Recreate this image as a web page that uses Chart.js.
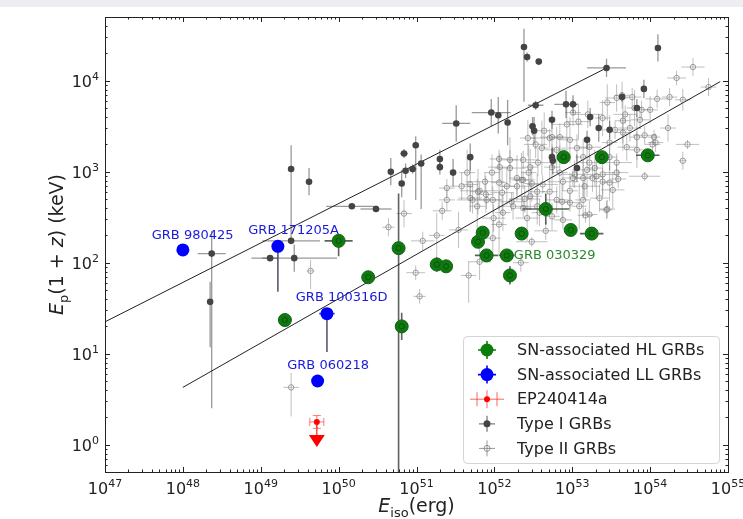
<!DOCTYPE html>
<html>
<head>
<meta charset="utf-8">
<script src="https://cdn.jsdelivr.net/npm/chart.js@4.4.1/dist/chart.umd.min.js"></script>
<style>
html,body{margin:0;background:#fff}
#wrap{width:743px;height:519px}
</style>
</head>
<body>
<div id="wrap"><canvas id="c" width="743" height="519"></canvas></div>
<script>
// all values are log10 : [log Eiso, log Ep(1+z), dx, dy(up), dy(down, optional)]
const xRange = [47, 55];
const yRange = [-0.3, 4.7];
const xTicks = [47,48,49,50,51,52,53,54,55];
const yTicks = [0,1,2,3,4];

const typeII = [
[50.84,2.54,0.10,0.15],[50.64,2.39,0.08,0.10],[51.39,2.69,0.10,0.12],[51.33,2.57,0.12,0.10],
[51.26,2.30,0.10,0.25],[51.08,2.24,0.15,0.10],[50.99,1.89,0.12,0.08],[49.64,1.91,0.05,0.12,0.2],
[49.39,0.63,0.10,0.16,0.32],[51.04,1.63,0.08,0.08],[51.67,1.86,0.10,0.15,0.30],[51.81,2.01,0.15,0.20],
[52.34,2.00,0.10,0.10],[51.54,2.36,0.12,0.20],[51.65,2.99,0.10,0.25],[51.72,2.69,0.20,0.15],
[51.78,2.62,0.10,0.30],[51.81,2.79,0.25,0.10],[51.89,2.75,0.10,0.20],[51.99,2.49,0.15,0.15],
[52.06,2.88,0.10,0.30],[52.06,3.14,0.12,0.10],[52.20,3.04,0.20,0.20],[52.29,2.93,0.10,0.25],
[52.37,2.91,0.15,0.10],[52.44,2.99,0.10,0.30],[52.39,2.70,0.20,0.15],[52.48,2.87,0.10,0.20],
[52.53,3.30,0.15,0.15],[52.61,3.26,0.10,0.30],[52.71,3.37,0.25,0.10],[52.64,3.45,0.10,0.20],
[52.80,3.24,0.15,0.25],[52.84,2.99,0.10,0.30],[52.88,2.89,0.20,0.10],[52.97,2.79,0.10,0.20],
[53.03,2.97,0.15,0.15],[53.09,2.62,0.10,0.25],[53.16,2.84,0.20,0.15],[53.19,3.02,0.10,0.30],
[53.22,3.27,0.15,0.10],[53.29,3.04,0.10,0.20],[53.35,2.71,0.12,0.15],[53.39,2.97,0.20,0.25],
[53.45,2.59,0.10,0.10],[53.52,2.80,0.15,0.20],[53.48,3.16,0.10,0.15],[53.57,3.10,0.20,0.10],
[53.65,3.43,0.10,0.20],[53.74,3.48,0.15,0.15],[53.83,3.38,0.10,0.25],[53.89,3.68,0.12,0.10],
[54.00,3.68,0.10,0.15],[54.09,3.80,0.15,0.10],[54.23,3.48,0.10,0.15],[54.25,3.82,0.10,0.10],
[54.34,4.03,0.12,0.08],[54.42,3.79,0.10,0.12],[54.55,4.15,0.15,0.10],[54.48,3.30,0.15,0.05],
[54.42,3.12,0.05,0.10],[54.75,3.93,0.10,0.10],[53.57,3.81,0.15,0.15],[53.45,3.76,0.10,0.20],
[53.77,3.82,0.12,0.10],[53.65,3.56,0.10,0.25],[53.20,3.63,0.20,0.15],[53.39,3.59,0.10,0.20],
[53.55,3.46,0.15,0.10],[53.48,3.32,0.10,0.30],[53.70,3.27,0.12,0.15],[53.83,3.24,0.10,0.20],
[53.93,3.40,0.15,0.10],[54.05,3.38,0.08,0.08],[54.03,3.30,0.10,0.10],[53.08,3.55,0.15,0.20],
[53.01,3.65,0.10,0.15],[52.93,3.52,0.20,0.25],[52.84,3.38,0.10,0.15],[52.74,3.38,0.15,0.20],
[52.97,3.35,0.10,0.25],[53.06,3.26,0.20,0.15],[53.14,3.16,0.10,0.20],[53.22,3.10,0.15,0.10],
[53.31,2.95,0.10,0.25],[53.39,2.89,0.12,0.15],[53.48,2.88,0.10,0.20],[53.57,2.99,0.15,0.10],
[53.14,2.69,0.10,0.20],[52.80,2.69,0.15,0.15],[52.71,2.78,0.10,0.25],[52.62,2.86,0.20,0.10],
[52.55,2.78,0.10,0.20],[52.46,2.73,0.15,0.15],[52.35,2.91,0.10,0.30],[52.29,2.84,0.20,0.10],
[52.16,2.84,0.10,0.20],[52.10,2.77,0.15,0.25],[51.98,2.69,0.10,0.15],[51.90,2.69,0.20,0.10],
[51.79,2.78,0.10,0.25],[51.69,2.71,0.15,0.15],[52.11,2.55,0.10,0.20],[52.24,2.62,0.20,0.15],
[52.37,2.60,0.10,0.10],[52.42,2.49,0.15,0.25],[52.74,2.51,0.10,0.15],[52.88,2.47,0.12,0.10],
[52.87,2.67,0.10,0.20],[52.97,2.66,0.15,0.10],[53.22,2.53,0.10,0.15],[52.55,2.62,0.20,0.20],
[52.74,3.05,0.10,0.25],[52.56,3.10,0.15,0.15],[52.46,3.05,0.10,0.20],[52.37,3.13,0.20,0.10],
[52.20,3.13,0.10,0.25],[52.07,3.05,0.15,0.15],[51.97,2.99,0.10,0.20],[51.88,2.89,0.25,0.10],
[51.69,2.86,0.10,0.30],[51.58,2.84,0.15,0.15],[51.39,2.82,0.10,0.10],[54.07,3.32,0.10,0.10],
[53.64,3.84,0.10,0.15],[53.68,3.63,0.15,0.10],[53.80,3.70,0.10,0.20],[53.87,3.57,0.12,0.10],
[53.17,2.52,0.10,0.08],[53.44,2.58,0.08,0.10],[53.59,2.92,0.10,0.10],[53.93,2.95,0.20,0.05],
[53.26,2.93,0.10,0.15],[53.01,2.93,0.15,0.10],[53.14,2.93,0.10,0.20],[52.43,3.37,0.10,0.20],
[52.06,2.42,0.10,0.35],[51.98,2.27,0.10,0.20],[52.48,2.23,0.20,0.05],[52.66,2.35,0.15,0.10],
[52.58,2.55,0.10,0.15],[52.22,2.67,0.15,0.10]
];

const typeI = [
[48.37,2.10,0.18,0.25,1.70],[48.35,1.57,0.00,0.22,0.50],[49.12,2.05,0.10,0.00],[49.43,2.05,0.55,0.15],
[49.39,2.24,0.37,0.00],[49.39,3.03,0.00,0.26,0.78],[49.62,2.89,0.00,0.15],[50.17,2.62,0.33,0.00],
[50.48,2.59,0.20,0.00],[50.67,3.00,0.00,0.15],[50.81,2.87,0.00,0.15],[50.84,3.20,0.05,0.05],
[50.86,3.01,0.00,0.08],[50.95,3.03,0.05,0.05],[50.99,3.29,0.00,0.10,0.60],[51.06,3.09,0.00,0.10,0.50],
[51.30,3.14,0.00,0.10],[51.30,3.05,0.00,0.08],[51.47,2.99,0.00,0.15],[51.51,3.53,0.18,0.20],
[51.69,3.16,0.00,0.15],[51.96,3.65,0.25,0.15],[52.05,3.62,0.00,0.20],[52.17,3.54,0.00,0.25],
[52.38,4.37,0.00,0.20,0.60],[52.42,4.26,0.00,0.05],[52.57,4.21,0.00,0.00],[52.53,3.73,0.10,0.05],
[52.51,3.45,0.00,0.15],[52.74,3.57,0.00,0.10],[52.75,3.12,0.00,0.15],[52.92,3.74,0.15,0.15],
[53.01,3.74,0.05,0.10],[53.44,4.14,0.25,0.10],[54.10,4.36,0.00,0.15],[53.34,3.48,0.00,0.15],
[53.48,3.46,0.00,0.10],[53.23,3.60,0.00,0.10],[53.83,3.70,0.00,0.10],[53.92,3.91,0.00,0.10],
[53.64,3.82,0.00,0.05],[53.19,3.35,0.00,0.10],[52.74,3.16,0.00,0.10],[53.06,3.04,0.00,0.15],
[52.49,3.50,0.00,0.10]
];

const hlGRBs = [
[49.31,1.37,0.08,0.03],[50.00,2.24,0.18,0.03,0.17],[50.38,1.84,0.06,0.03],[50.77,2.16,0.05,0.60,2.46],
[50.81,1.30,0.05,0.15],[51.26,1.98,0.03,0.08],[51.38,1.96,0.03,0.05],[51.79,2.23,0.05,0.05],
[51.85,2.33,0.05,0.05],[51.90,2.08,0.15,0.05],[52.16,2.08,0.10,0.04],[52.20,1.86,0.05,0.10],
[52.35,2.32,0.05,0.05],[52.66,2.59,0.30,0.17],[52.89,3.16,0.05,0.05],[52.98,2.36,0.05,0.03],
[53.25,2.32,0.15,0.03],[53.38,3.16,0.05,0.05],[53.97,3.18,0.15,0.05]
];

const llGRBs = [
[48.00,2.14,0.05,0.02],[49.22,2.18,0.05,0.05,0.50],[49.85,1.44,0.10,0.05,0.42],[49.73,0.70,0.02,0.02]
];
const llNames = ["GRB 980425","GRB 171205A","GRB 100316D","GRB 060218"];

const ep240414a = [[49.72,0.25,0.09,0.07]];
const epLimit = 0.04;   // log10 of upper-limit arrow tip

const fitTypeI = [[47.0,1.35],[53.44,4.14]];
const fitTypeII = [[48.0,0.63],[54.9,3.99]];

// label anchors (left, middle) in log10 data units
const labels = [
  {t:llNames[0], x:47.60, y:2.30, c:"#1a1adf"},
  {t:llNames[1], x:48.84, y:2.35, c:"#1a1adf"},
  {t:llNames[2], x:49.45, y:1.62, c:"#1a1adf"},
  {t:llNames[3], x:49.34, y:0.87, c:"#1a1adf"},
  {t:"GRB 030329", x:52.25, y:2.08, c:"#2a8a2a"}
];

const L = v => Math.pow(10, v);
const pts = arr => arr.map(t => ({x:L(t[0]), y:L(t[1])}));
const FONT = '"DejaVu Sans", sans-serif';

function richText(ctx, parts, x, y, size, align){
  const fnt = st => (st==='i'?'italic ':'') + ((st==='s'||st==='^')?Math.round(size*0.7):size) + 'px ' + FONT;
  let w = 0; const ws = [];
  parts.forEach(([t,st]) => { ctx.font = fnt(st); const m = ctx.measureText(t).width; ws.push(m); w += m; });
  let cx = align==='center' ? x - w/2 : align==='right' ? x - w : x;
  parts.forEach(([t,st],i) => {
    ctx.font = fnt(st);
    const dy = st==='s' ? size*0.28 : st==='^' ? -size*0.45 : 0;
    ctx.fillText(t, cx, y + dy);
    cx += ws[i];
  });
}

function errBars(ctx, xs, ys, arr, color, lw, caps){
  ctx.strokeStyle = color; ctx.lineWidth = lw;
  arr.forEach(t => {
    const [x,y,ex,eu] = t; const ed = t[4] !== undefined ? t[4] : eu;
    const px = xs.getPixelForValue(L(x)), py = ys.getPixelForValue(L(y));
    ctx.beginPath();
    if (ex > 0){
      const a = xs.getPixelForValue(L(x-ex)), b = xs.getPixelForValue(L(x+ex));
      ctx.moveTo(a, py); ctx.lineTo(b, py);
      if (caps){ ctx.moveTo(a,py-4); ctx.lineTo(a,py+4); ctx.moveTo(b,py-4); ctx.lineTo(b,py+4); }
    }
    if (eu > 0 || ed > 0){
      const a = ys.getPixelForValue(L(y+eu)), b = ys.getPixelForValue(L(y-ed));
      ctx.moveTo(px, a); ctx.lineTo(px, b);
      if (caps){ ctx.moveTo(px-4,a); ctx.lineTo(px+4,a); ctx.moveTo(px-4,b); ctx.lineTo(px+4,b); }
    }
    ctx.stroke();
  });
}

const decorPlugin = {
  id: 'decor',
  beforeDraw(chart){
    const ctx = chart.ctx;
    ctx.save();
    ctx.fillStyle = '#fff'; ctx.fillRect(0,0,chart.width,chart.height);
    ctx.fillStyle = '#eceef2'; ctx.fillRect(0,0,chart.width,7);
    ctx.restore();
  },
  beforeDatasetsDraw(chart){
    const ctx = chart.ctx, xs = chart.scales.x, ys = chart.scales.y, a = chart.chartArea;
    ctx.save();
    ctx.beginPath(); ctx.rect(a.left, a.top, a.right-a.left, a.bottom-a.top); ctx.clip();
    errBars(ctx, xs, ys, typeII, 'rgba(130,130,130,0.5)', 1, false);
    errBars(ctx, xs, ys, typeI, 'rgba(70,70,70,0.55)', 1.3, false);
    errBars(ctx, xs, ys, hlGRBs, 'rgba(50,60,50,0.8)', 1.6, false);
    errBars(ctx, xs, ys, llGRBs, 'rgba(60,60,90,0.85)', 1.6, false);
    errBars(ctx, xs, ys, ep240414a, 'rgba(255,60,60,0.7)', 1, true);
    // EP240414a upper limit arrow
    const e = ep240414a[0];
    const px = xs.getPixelForValue(L(e[0]));
    const p1 = ys.getPixelForValue(L(e[1])), p2 = ys.getPixelForValue(L(epLimit));
    ctx.strokeStyle = '#ff2020'; ctx.lineWidth = 1.2;
    ctx.beginPath(); ctx.moveTo(px, p1); ctx.lineTo(px, p2); ctx.stroke();
    ctx.fillStyle = '#ff0000';
    ctx.beginPath(); ctx.moveTo(px-8, p2-6); ctx.lineTo(px+8, p2-6); ctx.lineTo(px, p2+6); ctx.closePath(); ctx.fill();
    ctx.restore();
  },
  afterDatasetsDraw(chart){
    const ctx = chart.ctx, xs = chart.scales.x, ys = chart.scales.y;
    ctx.save();
    // inner rings on HL GRBs (they are also Type II members)
    ctx.strokeStyle = 'rgba(30,60,30,0.8)'; ctx.lineWidth = 1;
    hlGRBs.forEach(t => {
      ctx.beginPath();
      ctx.arc(xs.getPixelForValue(L(t[0])), ys.getPixelForValue(L(t[1])), 2.6, 0, Math.PI*2);
      ctx.stroke();
    });
    ctx.restore();
  },
  afterDraw(chart){
    const ctx = chart.ctx, xs = chart.scales.x, ys = chart.scales.y, a = chart.chartArea;
    ctx.save();
    // frame
    ctx.strokeStyle = '#222'; ctx.lineWidth = 1;
    ctx.strokeRect(Math.round(a.left)+0.5, Math.round(a.top)+0.5, Math.round(a.right-a.left), Math.round(a.bottom-a.top));
    // ticks on all four sides, pointing inwards
    ctx.beginPath();
    for (let d = xRange[0]; d < xRange[1]; d++){
      for (let m = 1; m < 10; m++){
        const px = Math.round(xs.getPixelForValue(m*L(d)))+0.5; const len = m===1 ? 5 : 2.5;
        ctx.moveTo(px, a.bottom); ctx.lineTo(px, a.bottom-len);
        ctx.moveTo(px, a.top); ctx.lineTo(px, a.top+len);
      }
    }
    for (let d = -1; d < 5; d++){
      for (let m = 1; m < 10; m++){
        const v = m*L(d); if (v < L(yRange[0]) || v > L(yRange[1])) continue;
        const py = Math.round(ys.getPixelForValue(v))+0.5; const len = m===1 ? 5 : 2.5;
        ctx.moveTo(a.left, py); ctx.lineTo(a.left+len, py);
        ctx.moveTo(a.right, py); ctx.lineTo(a.right-len, py);
      }
    }
    ctx.stroke();
    // tick labels
    ctx.fillStyle = '#222'; ctx.textBaseline = 'alphabetic';
    xTicks.forEach(d => richText(ctx, [['10',''],[String(d),'^']], xs.getPixelForValue(L(d)), a.bottom+22, 16, 'center'));
    yTicks.forEach(d => richText(ctx, [['10',''],[String(d),'^']], a.left-6, ys.getPixelForValue(L(d))+6, 16, 'right'));
    // axis titles
    richText(ctx, [['E','i'],['iso','s'],['(erg)','']], (a.left+a.right)/2, 512, 19, 'center');
    ctx.save();
    ctx.translate(63, (a.top+a.bottom)/2);
    ctx.rotate(-Math.PI/2);
    richText(ctx, [['E','i'],['p','s'],['(1 + ',''],['z','i'],[') (keV)','']], 0, 0, 19, 'center');
    ctx.restore();
    // GRB name labels
    ctx.textBaseline = 'middle'; ctx.font = '13px ' + FONT;
    labels.forEach(l => { ctx.fillStyle = l.c; ctx.fillText(l.t, xs.getPixelForValue(L(l.x)), ys.getPixelForValue(L(l.y))); });
    // legend
    const bx = 463, by = 336, bw = 256, bh = 127;
    ctx.fillStyle = 'rgba(255,255,255,0.85)'; ctx.strokeStyle = '#d4d4d4'; ctx.lineWidth = 1;
    ctx.beginPath(); ctx.roundRect(bx+0.5, by+0.5, bw, bh, 4); ctx.fill(); ctx.stroke();
    const rows = [
      {t:'SN-associated HL GRBs', kind:'hl'},
      {t:'SN-associated LL GRBs', kind:'ll'},
      {t:'EP240414a', kind:'ep'},
      {t:'Type I GRBs', kind:'t1'},
      {t:'Type II GRBs', kind:'t2'}
    ];
    rows.forEach((r,i) => {
      const cy = 350 + i*24.6, cx = 487;
      ctx.lineWidth = 1;
      if (r.kind==='hl' || r.kind==='ll'){
        const col = r.kind==='hl' ? '#0a7d0a' : '#0000ff';
        ctx.strokeStyle = col; ctx.lineWidth = 1.6;
        ctx.beginPath(); ctx.moveTo(cx-9,cy); ctx.lineTo(cx+9,cy); ctx.moveTo(cx,cy-9); ctx.lineTo(cx,cy+9); ctx.stroke();
        ctx.fillStyle = col; ctx.beginPath(); ctx.arc(cx,cy,6.5,0,Math.PI*2); ctx.fill();
      } else if (r.kind==='ep'){
        ctx.strokeStyle = 'rgba(255,60,60,0.8)';
        ctx.beginPath(); ctx.moveTo(cx-17,cy); ctx.lineTo(cx+17,cy);
        ctx.moveTo(cx-10,cy-7); ctx.lineTo(cx-10,cy+7); ctx.moveTo(cx+10,cy-7); ctx.lineTo(cx+10,cy+7);
        ctx.moveTo(cx,cy-9); ctx.lineTo(cx,cy+9); ctx.stroke();
        ctx.fillStyle = '#ff0000'; ctx.beginPath(); ctx.arc(cx,cy,3,0,Math.PI*2); ctx.fill();
      } else if (r.kind==='t1'){
        ctx.strokeStyle = 'rgba(70,70,70,0.7)'; ctx.lineWidth = 1.3;
        ctx.beginPath(); ctx.moveTo(cx-8,cy); ctx.lineTo(cx+8,cy); ctx.moveTo(cx,cy-8); ctx.lineTo(cx,cy+8); ctx.stroke();
        ctx.fillStyle = '#444'; ctx.beginPath(); ctx.arc(cx,cy,3.5,0,Math.PI*2); ctx.fill();
      } else {
        ctx.strokeStyle = 'rgba(110,110,110,0.7)';
        ctx.beginPath(); ctx.moveTo(cx-8,cy); ctx.lineTo(cx+8,cy); ctx.moveTo(cx,cy-8); ctx.lineTo(cx,cy+8); ctx.stroke();
        ctx.beginPath(); ctx.arc(cx,cy,3,0,Math.PI*2); ctx.stroke();
      }
      ctx.fillStyle = '#222'; ctx.font = '16px ' + FONT; ctx.textBaseline = 'middle';
      ctx.fillText(r.t, 517, cy+1);
    });
    ctx.restore();
  }
};

new Chart(document.getElementById('c'), {
  type: 'scatter',
  data: {
    datasets: [
      {label:'fitI', type:'line', data: pts(fitTypeI), borderColor:'#222', borderWidth:1, pointRadius:0, fill:false, order:6},
      {label:'fitII', type:'line', data: pts(fitTypeII), borderColor:'#222', borderWidth:1, pointRadius:0, fill:false, order:6},
      {label:'Type II GRBs', data: pts(typeII), pointRadius:2.7, pointBackgroundColor:'rgba(255,255,255,0)', pointBorderColor:'rgba(120,120,120,0.7)', pointBorderWidth:1, order:5},
      {label:'Type I GRBs', data: pts(typeI), pointRadius:3.3, pointBackgroundColor:'#444', pointBorderColor:'#444', pointBorderWidth:0, order:4},
      {label:'SN-associated HL GRBs', data: pts(hlGRBs), pointRadius:6.5, pointBackgroundColor:'#0a7d0a', pointBorderColor:'#1b5e1b', pointBorderWidth:1, order:3},
      {label:'SN-associated LL GRBs', data: pts(llGRBs), pointRadius:6.5, pointBackgroundColor:'#0000ff', pointBorderColor:'#0000ee', pointBorderWidth:0, order:2},
      {label:'EP240414a', data: pts(ep240414a), pointRadius:3, pointBackgroundColor:'#ff0000', pointBorderWidth:0, order:1}
    ]
  },
  options: {
    responsive: false,
    animation: false,
    devicePixelRatio: 1,
    layout: {padding: {top:17, right:15, left:0, bottom:0}},
    plugins: {legend:{display:false}, tooltip:{enabled:false}},
    scales: {
      x: {type:'logarithmic', min:L(xRange[0]), max:L(xRange[1]),
          ticks:{display:false}, grid:{display:false}, border:{display:false},
          afterFit: s => { s.height = 47; }},
      y: {type:'logarithmic', min:L(yRange[0]), max:L(yRange[1]),
          ticks:{display:false}, grid:{display:false}, border:{display:false},
          afterFit: s => { s.width = 105; }}
    }
  },
  plugins: [decorPlugin]
});
</script>
</body>
</html>
